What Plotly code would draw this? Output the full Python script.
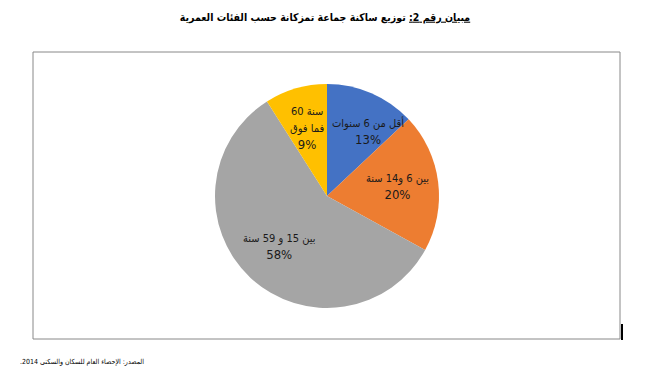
import math
import plotly.graph_objects as go

# Data
categories = ["أقل من 6 سنوات", "بين 6 و14 سنة", "بين 15 و 59 سنة", "\u202A60 سنة\u202C<br>فما فوق"]
values = [13, 20, 58, 9]
colors = ["#4472C4", "#ED7D31", "#A5A5A5", "#FFC000"]

title_main = "مبيان رقم 2:"
title_rest = " توزيع ساكنة جماعة تمزكانة حسب الفئات العمرية"
source_text = "المصدر: الإحصاء العام للسكان والسكنى 2014.\u200F"

W, H = 650, 382
cx, cy, r = 327, 196, 112
label_frac = 0.63

fig = go.Figure()
fig.add_trace(go.Pie(
    labels=categories,
    values=values,
    sort=False,
    direction="clockwise",
    rotation=0,
    marker=dict(colors=colors, line=dict(width=0)),
    textinfo="none",
    hoverinfo="label+percent",
    domain=dict(x=[(cx - r) / W, (cx + r) / W], y=[1 - (cy + r) / H, 1 - (cy - r) / H]),
    showlegend=False,
))

# data labels placed along each slice's bisector (computed from the values);
# the first and last slices keep their label on their own side of the 12 o'clock radius
annotations = []
total = sum(values)
cum = 0
n = len(values)
for i, (lab, v) in enumerate(zip(categories, values)):
    mid = (cum + v / 2) / total * 2 * math.pi
    cum += v
    px = cx + label_frac * r * math.sin(mid)
    py = cy - label_frac * r * math.cos(mid)
    xanchor = "center"
    if i == 0:
        px, xanchor = cx + 3, "left"
    elif i == n - 1:
        px, xanchor = cx - 1, "right"
    lines = lab.split("<br>")
    styled = "<br>".join(f"<span style='font-size:11px'>{ln}</span>" for ln in lines)
    annotations.append(dict(
        text=f"{styled}<br>{round(v / total * 100)}%",
        xref="paper", yref="paper", x=px / W, y=1 - py / H,
        xanchor=xanchor, yanchor="middle", showarrow=False, align="center",
        font=dict(family="DejaVu Sans Condensed, DejaVu Sans", size=13, color="#1a1a1a"),
    ))

annotations.append(dict(
    text=source_text, xref="paper", yref="paper",
    x=18 / W, y=1 - 362 / H, xanchor="left", yanchor="middle",
    showarrow=False, font=dict(family="DejaVu Sans Condensed, DejaVu Sans", size=7, color="black"),
))

fig.update_layout(
    width=W, height=H,
    margin=dict(l=0, r=0, t=0, b=0),
    paper_bgcolor="white",
    plot_bgcolor="white",
    title=dict(
        text="<b><span style='text-decoration:underline'>" + title_main + "</span>" + title_rest + "</b>",
        x=0.5, xanchor="center", y=1 - 17 / H, yanchor="middle",
        font=dict(family="DejaVu Sans Condensed, DejaVu Sans", size=10.5, color="black"),
    ),
    shapes=[
        dict(type="rect", xref="paper", yref="paper",
             x0=33 / W, x1=620 / W, y0=1 - 339 / H, y1=1 - 52 / H,
             line=dict(color="#888888", width=1), layer="below"),
        dict(type="line", xref="paper", yref="paper",
             x0=622 / W, x1=622 / W, y0=1 - 340 / H, y1=1 - 324 / H,
             line=dict(color="black", width=2)),
    ],
    annotations=annotations,
)

fig.write_html("out.html", config={"displayModeBar": False},
               post_script="document.body.style.margin='0px';")
